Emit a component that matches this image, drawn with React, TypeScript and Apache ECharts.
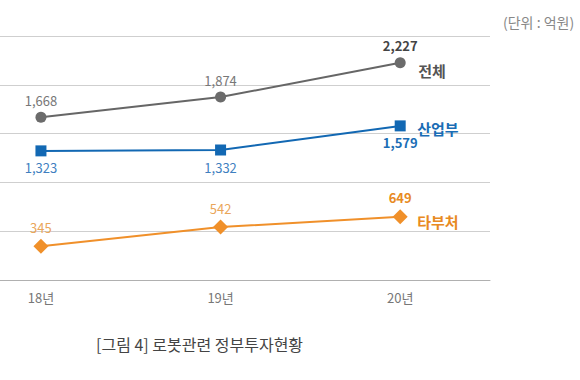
import React, { useEffect, useRef } from "react";
import * as echarts from "echarts";

const years = [18, 19, 20];
const yearLabels = ["18년", "19년", "20년"];
const totalVals = [1668, 1874, 2227];
const industryVals = [1323, 1332, 1579];
const otherVals = [345, 542, 649];
const yTicks = [0, 500, 1000, 1500, 2000, 2500];

const FONT = "'Noto Sans CJK KR', 'Noto Sans', sans-serif";

function fmt(v: number) {
  return v.toLocaleString("en-US");
}

function mkData(vals: number[], lastLabel: any) {
  return vals.map((v, i) =>
    i === vals.length - 1
      ? { value: [years[i], v], label: lastLabel }
      : { value: [years[i], v] }
  );
}

export default function App() {
  const ref = useRef<HTMLDivElement>(null);
  useEffect(() => {
    if (!ref.current) return;
    const chart = echarts.init(ref.current, null, { renderer: "svg" });
    const labelFmt = (p: any) => fmt(p.value[1]);
    chart.setOption({
      animation: false,
      backgroundColor: "#ffffff",
      textStyle: { fontFamily: FONT },
      grid: { left: 0, right: 90, top: 36, bottom: 100, containLabel: false },
      graphic: [
        {
          type: "text",
          left: 503,
          top: 15,
          style: { text: "(단위 : 억원)", fill: "#888", font: `14px ${FONT}` },
        },
        {
          type: "text",
          left: 96,
          top: 336,
          style: {
            text: "[그림 4] 로봇관련 정부투자현황",
            fill: "#444",
            font: `16px ${FONT}`,
          },
        },
      ],
      xAxis: {
        type: "value",
        min: 17.772,
        max: 20.5,
        axisLine: { show: true, lineStyle: { color: "#b0b0b0", width: 1 } },
        axisTick: { show: false },
        splitLine: { show: false },
        axisLabel: {
          customValues: years,
          formatter: (v: number) => yearLabels[years.indexOf(Math.round(v))] || "",
          color: "#777",
          fontSize: 13,
          margin: 11,
          fontFamily: FONT,
        },
      },
      yAxis: {
        type: "value",
        min: yTicks[0],
        max: yTicks[yTicks.length - 1],
        interval: 500,
        axisLine: { show: false },
        axisTick: { show: false },
        axisLabel: { show: false },
        splitLine: { show: true, lineStyle: { color: "#cfcfcf", width: 1 } },
      },
      series: [
        {
          name: "전체",
          type: "line",
          data: mkData(totalVals, {
            fontWeight: "bold",
            color: "#444",
          }),
          symbol: "circle",
          symbolSize: 11,
          itemStyle: { color: "#6b6b6b" },
          lineStyle: { color: "#666", width: 2 },
          label: {
            show: true,
            position: "top",
            formatter: labelFmt,
            color: "#777",
            fontSize: 13,
            fontFamily: FONT,
          },
          endLabel: {
            show: true,
            formatter: "{a}",
            distance: 18,
            offset: [0, 8],
            color: "#555",
            fontSize: 15,
            fontWeight: "bold",
            fontFamily: FONT,
          },
        },
        {
          name: "산업부",
          type: "line",
          data: mkData(industryVals, {
            fontWeight: "bold",
            color: "#1a6db5",
          }),
          symbol: "rect",
          symbolSize: 11,
          itemStyle: { color: "#1268b3" },
          lineStyle: { color: "#1268b3", width: 2 },
          label: {
            show: true,
            position: "bottom",
            formatter: labelFmt,
            color: "#3f7fbf",
            fontSize: 13,
            fontFamily: FONT,
          },
          endLabel: {
            show: true,
            formatter: "{a}",
            distance: 17,
            offset: [0, 3],
            color: "#1a6db5",
            fontSize: 15,
            fontWeight: "bold",
            fontFamily: FONT,
          },
        },
        {
          name: "타부처",
          type: "line",
          data: mkData(otherVals, {
            fontWeight: "bold",
            color: "#e88a22",
          }),
          symbol: "diamond",
          symbolSize: 15,
          itemStyle: { color: "#f0902a" },
          lineStyle: { color: "#f0902a", width: 2 },
          label: {
            show: true,
            position: "top",
            formatter: labelFmt,
            color: "#eaa65a",
            fontSize: 13,
            fontFamily: FONT,
          },
          endLabel: {
            show: true,
            formatter: "{a}",
            distance: 17,
            offset: [0, 5],
            color: "#e88a22",
            fontSize: 15,
            fontWeight: "bold",
            fontFamily: FONT,
          },
        },
      ],
    });
    return () => chart.dispose();
  }, []);
  return (
    <div
      ref={ref}
      style={{ position: "fixed", left: 0, top: 0, width: 580, height: 380 }}
    />
  );
}
